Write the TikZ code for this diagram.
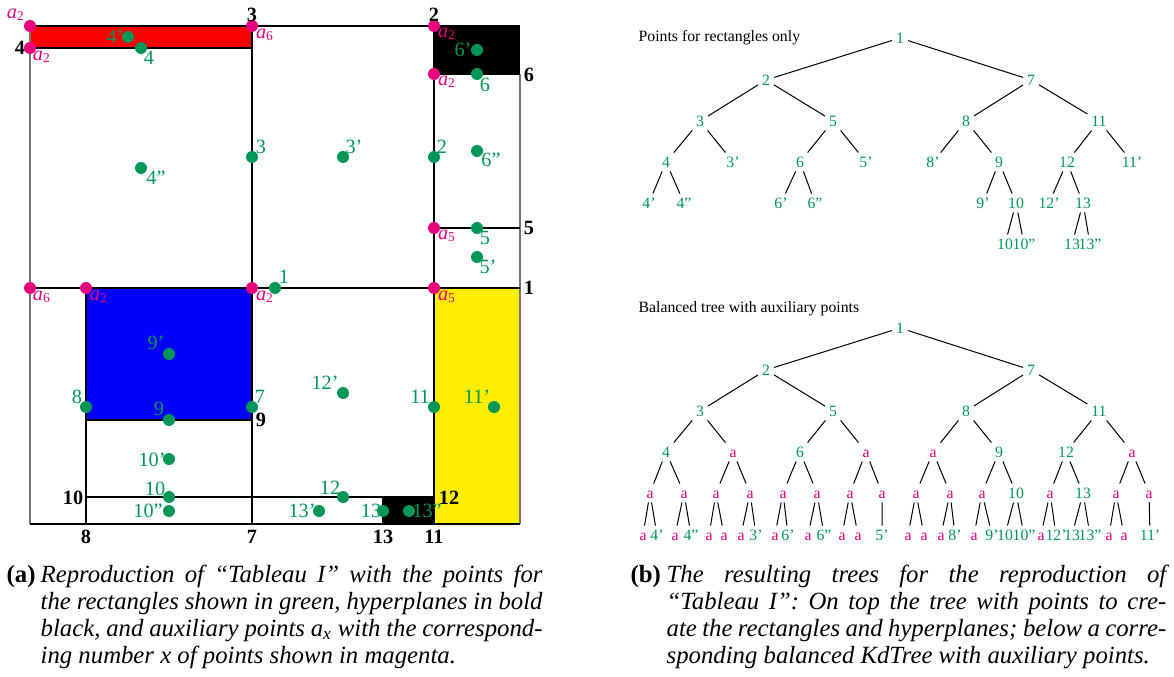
\documentclass[tikz,border=0pt]{standalone}
\usepackage{fontspec}
\setmainfont{Liberation Serif}
\definecolor{ptgreen}{RGB}{0,150,90}
\definecolor{auxpink}{RGB}{230,0,126}
\definecolor{hpyellow}{RGB}{255,237,0}
\tikzset{every picture/.style={line width=0.6pt},
  plane/.style={black,line width=0.6pt},
  frame/.style={black!55,line width=0.6pt},
  hplabel/.style={inner sep=0.75pt,font=\fontsize{9}{10}\selectfont\bfseries},
  ptlabel/.style={inner sep=0.75pt,text=ptgreen,font=\fontsize{9}{10}\selectfont},
  auxlabel/.style={inner sep=0.75pt,text=auxpink,font=\fontsize{9}{10}\selectfont},
  treept/.style={inner sep=1.5pt,text=ptgreen,font=\fontsize{7}{8}\selectfont,text height=4.8pt,text depth=0pt},
  treeaux/.style={treept,text=auxpink},
  treetitle/.style={inner sep=0pt,anchor=base west,font=\fontsize{7}{8}\selectfont},
  branch/.style={line width=0.45pt},
  captext/.style={inner sep=0pt,anchor=base west,font=\fontsize{11}{12}\selectfont\itshape},
  caplabel/.style={inner sep=0pt,anchor=base west,font=\fontsize{11}{12}\selectfont\bfseries}}
\newcommand{\auxpt}[1]{\textit{a}\textsubscript{#1}}

\begin{document}
\begin{tikzpicture}[x=0.4444pt,y=0.4444pt,yscale=-1,xscale=1]
\useasboundingbox (0,0) rectangle (1174,677);

%Shape: Rectangles
\fill [red] (30,26) rectangle (252,48) ;
\fill [black] (434,26) rectangle (520,74) ;
\fill [blue] (86,288) rectangle (252,420) ;
\fill [hpyellow] (434,288) rectangle (520,524) ;
\fill [black] (383,497) rectangle (434,524) ;

%Shape: Frame
\draw [frame] (30,26) -- (30,524) ;
\draw [frame] (520,74) -- (520,524) ;
\draw [plane] (30,26) -- (520,26) ;
\draw [plane] (30,524) -- (520,524) ;

%Straight Lines: hyperplanes
\draw [plane] (30,288) -- (520,288) ;
\draw [plane] (434,26) -- (434,288) ;
\draw [plane] (252,26) -- (252,288) ;
\draw [plane] (30,48) -- (252,48) ;
\draw [plane] (434,228) -- (520,228) ;
\draw [plane] (434,74) -- (520,74) ;
\draw [plane] (252,288) -- (252,524) ;
\draw [plane] (86,288) -- (86,524) ;
\draw [plane] (86,420) -- (252,420) ;
\draw [plane] (86,497) -- (252,497) ;
\draw [plane] (434,288) -- (434,524) ;
\draw [plane] (252,497) -- (434,497) ;
\draw [plane] (383,497) -- (383,524) ;

%Shape: Circle (auxiliary points)
\fill [auxpink] (30,26) circle (6) ;
\fill [auxpink] (30,48) circle (6) ;
\fill [auxpink] (252,26) circle (6) ;
\fill [auxpink] (434,26) circle (6) ;
\fill [auxpink] (434,74) circle (6) ;
\fill [auxpink] (434,228) circle (6) ;
\fill [auxpink] (30,288) circle (6) ;
\fill [auxpink] (86,288) circle (6) ;
\fill [auxpink] (252,288) circle (6) ;
\fill [auxpink] (434,288) circle (6) ;

%Shape: Circle (points)
\fill [ptgreen] (128,37) circle (6) ;
\fill [ptgreen] (141,48) circle (6) ;
\fill [ptgreen] (477,50) circle (6) ;
\fill [ptgreen] (477,74) circle (6) ;
\fill [ptgreen] (252,157) circle (6) ;
\fill [ptgreen] (343,157) circle (6) ;
\fill [ptgreen] (434,157) circle (6) ;
\fill [ptgreen] (141,168) circle (6) ;
\fill [ptgreen] (477,151) circle (6) ;
\fill [ptgreen] (477,228) circle (6) ;
\fill [ptgreen] (477,257) circle (6) ;
\fill [ptgreen] (275,288) circle (6) ;
\fill [ptgreen] (169,354) circle (6) ;
\fill [ptgreen] (86,407) circle (6) ;
\fill [ptgreen] (252,407) circle (6) ;
\fill [ptgreen] (169,420) circle (6) ;
\fill [ptgreen] (343,393) circle (6) ;
\fill [ptgreen] (434,407) circle (6) ;
\fill [ptgreen] (494,407) circle (6) ;
\fill [ptgreen] (169,459) circle (6) ;
\fill [ptgreen] (169,497) circle (6) ;
\fill [ptgreen] (169,511) circle (6) ;
\fill [ptgreen] (343,497) circle (6) ;
\fill [ptgreen] (319,511) circle (6) ;
\fill [ptgreen] (383,511) circle (6) ;
\fill [ptgreen] (409,511) circle (6) ;

% Text Node: hyperplanes
\node [hplabel] (hp1) at (529,288) {1};
\node [hplabel] (hp2) at (434,15) {2};
\node [hplabel] (hp3) at (252,15) {3};
\node [hplabel] (hp4) at (20,48) {4};
\node [hplabel] (hp5) at (529,228) {5};
\node [hplabel] (hp6) at (529,75) {6};
\node [hplabel] (hp7) at (252,537) {7};
\node [hplabel] (hp8) at (86,537) {8};
\node [hplabel] (hp9) at (261,420) {9};
\node [hplabel] (hp10) at (73,498) {10};
\node [hplabel] (hp11) at (434,537) {11};
\node [hplabel] (hp12) at (449,498) {12};
\node [hplabel] (hp13) at (383,537) {13};

% Text Node: auxiliary points
\node [auxlabel] (ax1) at (16,15) {\auxpt{2}};
\node [auxlabel] (ax2) at (42,57) {\auxpt{2}};
\node [auxlabel] (ax3) at (265,35) {\auxpt{6}};
\node [auxlabel] (ax4) at (447,34) {\auxpt{2}};
\node [auxlabel] (ax5) at (447,82) {\auxpt{2}};
\node [auxlabel] (ax6) at (447,236) {\auxpt{5}};
\node [auxlabel] (ax7) at (42,297) {\auxpt{6}};
\node [auxlabel] (ax8) at (99,297) {\auxpt{2}};
\node [auxlabel] (ax9) at (265,297) {\auxpt{2}};
\node [auxlabel] (ax10) at (447,297) {\auxpt{5}};

% Text Node: points
\node [ptlabel] (pt4p) at (115,37) {4'};
\node [ptlabel] (pt4) at (149,58) {4};
\node [ptlabel] (pt6p) at (463,50) {6'};
\node [ptlabel] (pt6) at (485,85) {6};
\node [ptlabel] (pt3) at (261,147) {3};
\node [ptlabel] (pt3p) at (354,147) {3'};
\node [ptlabel] (pt2) at (442,147) {2};
\node [ptlabel] (pt4pp) at (156,178) {4''};
\node [ptlabel] (pt6pp) at (491,160) {6''};
\node [ptlabel] (pt5) at (485,238) {5};
\node [ptlabel] (pt5p) at (488,267) {5'};
\node [ptlabel] (pt1) at (284,277) {1};
\node [ptlabel] (pt9p) at (156,343) {9'};
\node [ptlabel] (pt8) at (77,397) {8};
\node [ptlabel] (pt7) at (260,397) {7};
\node [ptlabel] (pt9) at (159,409) {9};
\node [ptlabel] (pt12p) at (325,383) {12'};
\node [ptlabel] (pt11) at (420,397) {11};
\node [ptlabel] (pt11p) at (477,397) {11'};
\node [ptlabel] (pt10p) at (152,460) {10'};
\node [ptlabel] (pt10) at (155,489) {10};
\node [ptlabel] (pt10pp) at (148,511) {10''};
\node [ptlabel] (pt12) at (330,488) {12};
\node [ptlabel] (pt13p) at (302,511) {13'};
\node [ptlabel] (pt13) at (371,511) {13};
\node [ptlabel] (pt13pp) at (427,511) {13''};

% Text Node: tree with points only
\node [treetitle] (titleA) at (638,42) {Points for rectangles only};
\node [treept] (t1) at (900,38) {1};
\node [treept] (t2) at (766,80) {2};
\node [treept] (t7) at (1031,80) {7};
\node [treept] (t3) at (700,121) {3};
\node [treept] (t5) at (833,121) {5};
\node [treept] (t8) at (966,121) {8};
\node [treept] (t11) at (1099,121) {11};
\node [treept] (t4) at (666,162) {4};
\node [treept] (t3p) at (733,162) {3'};
\node [treept] (t6) at (800,162) {6};
\node [treept] (t5p) at (866,162) {5'};
\node [treept] (t8p) at (933,162) {8'};
\node [treept] (t9) at (999,162) {9};
\node [treept] (t12) at (1067,162) {12};
\node [treept] (t11p) at (1132,162) {11'};
\node [treept] (t4p) at (649,203) {4'};
\node [treept] (t4pp) at (684,203) {4''};
\node [treept] (t6p) at (781,203) {6'};
\node [treept] (t6pp) at (815,203) {6''};
\node [treept] (t9p) at (983,203) {9'};
\node [treept] (t10) at (1016,203) {10};
\node [treept] (t12p) at (1049,203) {12'};
\node [treept] (t13) at (1083,203) {13};
\node [treept] (t10a) at (1005,244) {10};
\node [treept] (t10pp) at (1024,244) {10''};
\node [treept] (t13a) at (1072,244) {13};
\node [treept] (t13pp) at (1090,244) {13''};

%Straight Lines: tree with points only
\draw [branch] (t1) -- (t2) (t1) -- (t7) ;
\draw [branch] (t2) -- (t3) (t2) -- (t5) (t7) -- (t8) (t7) -- (t11) ;
\draw [branch] (t3) -- (t4) (t3) -- (t3p) (t5) -- (t6) (t5) -- (t5p) ;
\draw [branch] (t8) -- (t8p) (t8) -- (t9) (t11) -- (t12) (t11) -- (t11p) ;
\draw [branch] (t4) -- (t4p) (t4) -- (t4pp) (t6) -- (t6p) (t6) -- (t6pp) ;
\draw [branch] (t9) -- (t9p) (t9) -- (t10) (t12) -- (t12p) (t12) -- (t13) ;
\draw [branch] (t10) -- (t10a) (t10) -- (t10pp) (t13) -- (t13a) (t13) -- (t13pp) ;

% Text Node: balanced tree
\node [treetitle] (titleB) at (638,313) {Balanced tree with auxiliary points};
\node [treept] (b1) at (900,328) {1};
\node [treept] (b2) at (766,370) {2};
\node [treept] (b7) at (1031,370) {7};
\node [treept] (b3) at (700,411) {3};
\node [treept] (b5) at (833,411) {5};
\node [treept] (b8) at (966,411) {8};
\node [treept] (b11) at (1099,411) {11};
\node [treept] (b4) at (666,452) {4};
\node [treeaux] (ba1) at (733,452) {a};
\node [treept] (b6) at (800,452) {6};
\node [treeaux] (ba2) at (866,452) {a};
\node [treeaux] (ba3) at (933,452) {a};
\node [treept] (b9) at (999,452) {9};
\node [treept] (b12) at (1066,452) {12};
\node [treeaux] (ba4) at (1132,452) {a};
\node [treeaux] (c1) at (650,493) {a};
\node [treeaux] (c2) at (684,493) {a};
\node [treeaux] (c3) at (716,493) {a};
\node [treeaux] (c4) at (750,493) {a};
\node [treeaux] (c5) at (783,493) {a};
\node [treeaux] (c6) at (817,493) {a};
\node [treeaux] (c7) at (850,493) {a};
\node [treeaux] (c8) at (882,493) {a};
\node [treeaux] (c9) at (916,493) {a};
\node [treeaux] (c10) at (950,493) {a};
\node [treeaux] (c11) at (982,493) {a};
\node [treept] (b10) at (1016,493) {10};
\node [treeaux] (c13) at (1050,493) {a};
\node [treept] (b13) at (1083,493) {13};
\node [treeaux] (c15) at (1116,493) {a};
\node [treeaux] (c16) at (1149,493) {a};
\node [treeaux] (d1) at (643,535) {a};
\node [treept] (d2) at (657,535) {4'};
\node [treeaux] (d3) at (675,535) {a};
\node [treept] (d4) at (691,535) {4''};
\node [treeaux] (d5) at (709,535) {a};
\node [treeaux] (d6) at (724,535) {a};
\node [treeaux] (d7) at (741,535) {a};
\node [treept] (d8) at (756,535) {3'};
\node [treeaux] (d9) at (775,535) {a};
\node [treept] (d10) at (788,535) {6'};
\node [treeaux] (d11) at (808,535) {a};
\node [treept] (d12) at (824,535) {6''};
\node [treeaux] (d13) at (842,535) {a};
\node [treeaux] (d14) at (858,535) {a};
\node [treept] (d15) at (882,535) {5'};
\node [treeaux] (d16) at (908,535) {a};
\node [treeaux] (d17) at (924,535) {a};
\node [treeaux] (d18) at (941,535) {a};
\node [treept] (d19) at (955,535) {8'};
\node [treeaux] (d20) at (974,535) {a};
\node [treept] (d21) at (992,535) {9'};
\node [treept] (d22) at (1005,535) {10};
\node [treept] (d23) at (1024,535) {10''};
\node [treeaux] (d24) at (1041,535) {a};
\node [treept] (d25) at (1056,535) {12'};
\node [treept] (d26) at (1072,535) {13};
\node [treept] (d27) at (1090,535) {13''};
\node [treeaux] (d28) at (1109,535) {a};
\node [treeaux] (d29) at (1124,535) {a};
\node [treept] (d30) at (1150,535) {11'};

%Straight Lines: balanced tree
\draw [branch] (b1) -- (b2) (b1) -- (b7) ;
\draw [branch] (b2) -- (b3) (b2) -- (b5) (b7) -- (b8) (b7) -- (b11) ;
\draw [branch] (b3) -- (b4) (b3) -- (ba1) (b5) -- (b6) (b5) -- (ba2) ;
\draw [branch] (b8) -- (ba3) (b8) -- (b9) (b11) -- (b12) (b11) -- (ba4) ;
\draw [branch] (b4) -- (c1) (b4) -- (c2) (ba1) -- (c3) (ba1) -- (c4) ;
\draw [branch] (b6) -- (c5) (b6) -- (c6) (ba2) -- (c7) (ba2) -- (c8) ;
\draw [branch] (ba3) -- (c9) (ba3) -- (c10) (b9) -- (c11) (b9) -- (b10) ;
\draw [branch] (b12) -- (c13) (b12) -- (b13) (ba4) -- (c15) (ba4) -- (c16) ;
\draw [branch] (c1) -- (d1) (c1) -- (d2) (c2) -- (d3) (c2) -- (d4) ;
\draw [branch] (c3) -- (d5) (c3) -- (d6) (c4) -- (d7) (c4) -- (d8) ;
\draw [branch] (c5) -- (d9) (c5) -- (d10) (c6) -- (d11) (c6) -- (d12) ;
\draw [branch] (c7) -- (d13) (c7) -- (d14) (c8) -- (d15) ;
\draw [branch] (c9) -- (d16) (c9) -- (d17) (c10) -- (d18) (c10) -- (d19) ;
\draw [branch] (c11) -- (d20) (c11) -- (d21) (b10) -- (d22) (b10) -- (d23) ;
\draw [branch] (c13) -- (d24) (c13) -- (d25) (b13) -- (d26) (b13) -- (d27) ;
\draw [branch] (c15) -- (d28) (c15) -- (d29) (c16) -- (d30) ;

% Text Node: captions
\node [caplabel] (capA) at (6,582) {(a)};
\node [captext] (capA1) at (40,582) {\makebox[223pt][s]{Reproduction of ``Tableau I'' with the points for}};
\node [captext] (capA2) at (40,609) {\makebox[223pt][s]{the rectangles shown in green, hyperplanes in bold}};
\node [captext] (capA3) at (40,636) {\makebox[223pt][s]{black, and auxiliary points \textit{a}\textsubscript{\textit{x}} with the correspond-}};
\node [captext] (capA4) at (40,663) {ing number \textit{x} of points shown in magenta.};
\node [caplabel] (capB) at (630,582) {(b)};
\node [captext] (capB1) at (666,582) {\makebox[222pt][s]{The resulting trees for the reproduction of}};
\node [captext] (capB2) at (666,609) {\makebox[222pt][s]{``Tableau I'': On top the tree with points to cre-}};
\node [captext] (capB3) at (666,636) {\makebox[222pt][s]{ate the rectangles and hyperplanes; below a corre-}};
\node [captext] (capB4) at (666,663) {sponding balanced KdTree with auxiliary points.};

\end{tikzpicture}
\end{document}
